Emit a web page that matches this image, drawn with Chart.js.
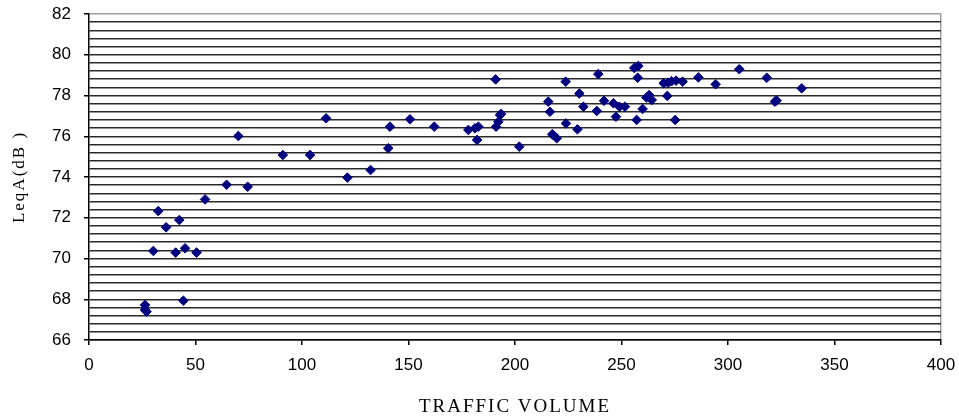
<!DOCTYPE html>
<html>
<head>
<meta charset="utf-8">
<script src="https://cdn.jsdelivr.net/npm/chart.js@4"></script>
<style>
html,body{margin:0;padding:0;background:#fff;}
#wrap{width:959px;height:420px;position:relative;}
</style>
</head>
<body>
<div id="wrap"><canvas id="c" width="959" height="420"></canvas></div>
<script>
// Data
const trafficVolume = [
  26.3, 26.3, 27.0, 44.3, 30.2, 40.7, 45.1, 50.5, 32.5, 36.2,
  42.4, 54.5, 64.6, 74.5, 70.1, 91.0, 103.8, 111.3, 121.3, 132.2,
  140.5, 141.3, 150.7, 162.1, 178.1, 181.2, 182.8, 182.2, 190.9, 193.0,
  192.2, 191.1, 202.0, 215.6, 216.4, 223.8, 218.0, 219.6, 223.9, 229.3,
  230.2, 232.1, 239.1, 238.4, 241.8, 246.2, 247.4, 251.6, 257.9, 257.6,
  257.1, 259.9, 263.0, 264.2, 271.5, 271.9, 275.6, 278.7, 275.2, 286.1,
  294.2, 305.3, 318.2, 322.8, 334.6, 256.0, 249.0, 269.8, 273.5, 261.7,
  193.5, 322.0, 217.5
];
const leqA = [
  67.72, 67.47, 67.39, 67.93, 70.37, 70.29, 70.50, 70.29, 72.33, 71.53,
  71.89, 72.90, 73.62, 73.52, 76.01, 75.08, 75.08, 76.88, 73.97, 74.34,
  75.41, 76.47, 76.83, 76.47, 76.31, 76.39, 76.47, 75.82, 78.79, 77.04,
  76.71, 76.47, 75.49, 77.70, 77.20, 78.68, 76.06, 75.90, 76.63, 76.34,
  78.10, 77.45, 79.05, 77.24, 77.74, 77.62, 76.96, 77.45, 79.45, 78.87,
  76.80, 77.34, 78.02, 77.78, 77.98, 78.63, 78.73, 78.68, 76.80, 78.89,
  78.55, 79.29, 78.87, 77.75, 78.35, 79.35, 77.45, 78.60, 78.70, 77.90,
  77.10, 77.70, 76.10
];
const xTickLabels = ['0','50','100','150','200','250','300','350','400'];
const yTickLabels = ['66','68','70','72','74','76','78','80','82'];
const xTitle = 'TRAFFIC VOLUME';
const yTitle = 'LeqA(dB )';

const points = trafficVolume.map((x, i) => ({x: x, y: leqA[i]}));
const isMajorY = v => Math.abs(v / 2 - Math.round(v / 2)) < 1e-6;

const spacingPlugin = {
  id: 'titleSpacing',
  afterUpdate(chart) {
    ['x', 'y'].forEach(id => {
      const s = chart.scales[id];
      if (s && !s._patchedTitle) {
        const orig = s.drawTitle;
        s.drawTitle = function() {
          const ctx = this.ctx;
          ctx.save();
          ctx.letterSpacing = '2px';
          orig.apply(this, arguments);
          ctx.restore();
        };
        s._patchedTitle = true;
      }
    });
  }
};

function zeroPad(scale) {
  scale.paddingTop = 0;
  scale.paddingBottom = 0;
  scale.paddingLeft = 0;
  scale.paddingRight = 0;
}

new Chart(document.getElementById('c'), {
  type: 'scatter',
  data: {
    datasets: [{
      data: points,
      pointStyle: 'rectRot',
      pointRadius: 4.8,
      pointHoverRadius: 4.8,
      backgroundColor: '#000080',
      borderColor: '#000080',
      borderWidth: 1
    }]
  },
  options: {
    responsive: false,
    animation: false,
    events: [],
    layout: { padding: { top: 14, right: 18, bottom: 0, left: 0 } },
    plugins: { legend: { display: false }, tooltip: { enabled: false } },
    scales: {
      x: {
        type: 'linear',
        min: 0, max: 400,
        afterFit(scale) { scale.height = 80; zeroPad(scale); },
        ticks: {
          stepSize: 50,
          padding: 10,
          color: '#000',
          font: { family: 'Liberation Sans', size: 17 },
          callback: (v) => xTickLabels[Math.round(v / 50)] ?? ''
        },
        grid: {
          display: true,
          drawOnChartArea: true,
          color: (ctx) => (ctx.tick && ctx.tick.value === 400) ? '#a0a0a0' : 'rgba(0,0,0,0)',
          tickColor: '#000',
          tickLength: 5,
          lineWidth: 1.5
        },
        border: { display: true, color: '#000', width: 1.5 },
        title: {
          display: true,
          text: xTitle,
          color: '#000',
          font: { family: 'Liberation Serif', size: 19 },
          padding: { top: 0, bottom: 2 }
        }
      },
      y: {
        type: 'linear',
        min: 66, max: 82,
        afterFit(scale) { scale.width = 89; zeroPad(scale); },
        ticks: {
          stepSize: 0.4,
          autoSkip: false,
          padding: 13,
          color: '#000',
          font: { family: 'Liberation Sans', size: 17 },
          callback: (v) => isMajorY(v) ? yTickLabels[Math.round((v - 66) / 2)] : ''
        },
        grid: {
          color: (ctx) => (ctx.tick && Math.abs(ctx.tick.value - 82) < 1e-6) ? '#a0a0a0' : '#2a2a2a',
          tickColor: (ctx) => (ctx.tick && isMajorY(ctx.tick.value)) ? '#000' : 'rgba(0,0,0,0)',
          tickLength: 5,
          lineWidth: 1.5
        },
        border: { display: true, color: '#000', width: 1.5 },
        title: {
          display: true,
          text: yTitle,
          color: '#000',
          font: { family: 'Liberation Serif', size: 17 },
          padding: { top: 9, bottom: 0 }
        }
      }
    }
  },
  plugins: [spacingPlugin]
});
</script>
</body>
</html>
